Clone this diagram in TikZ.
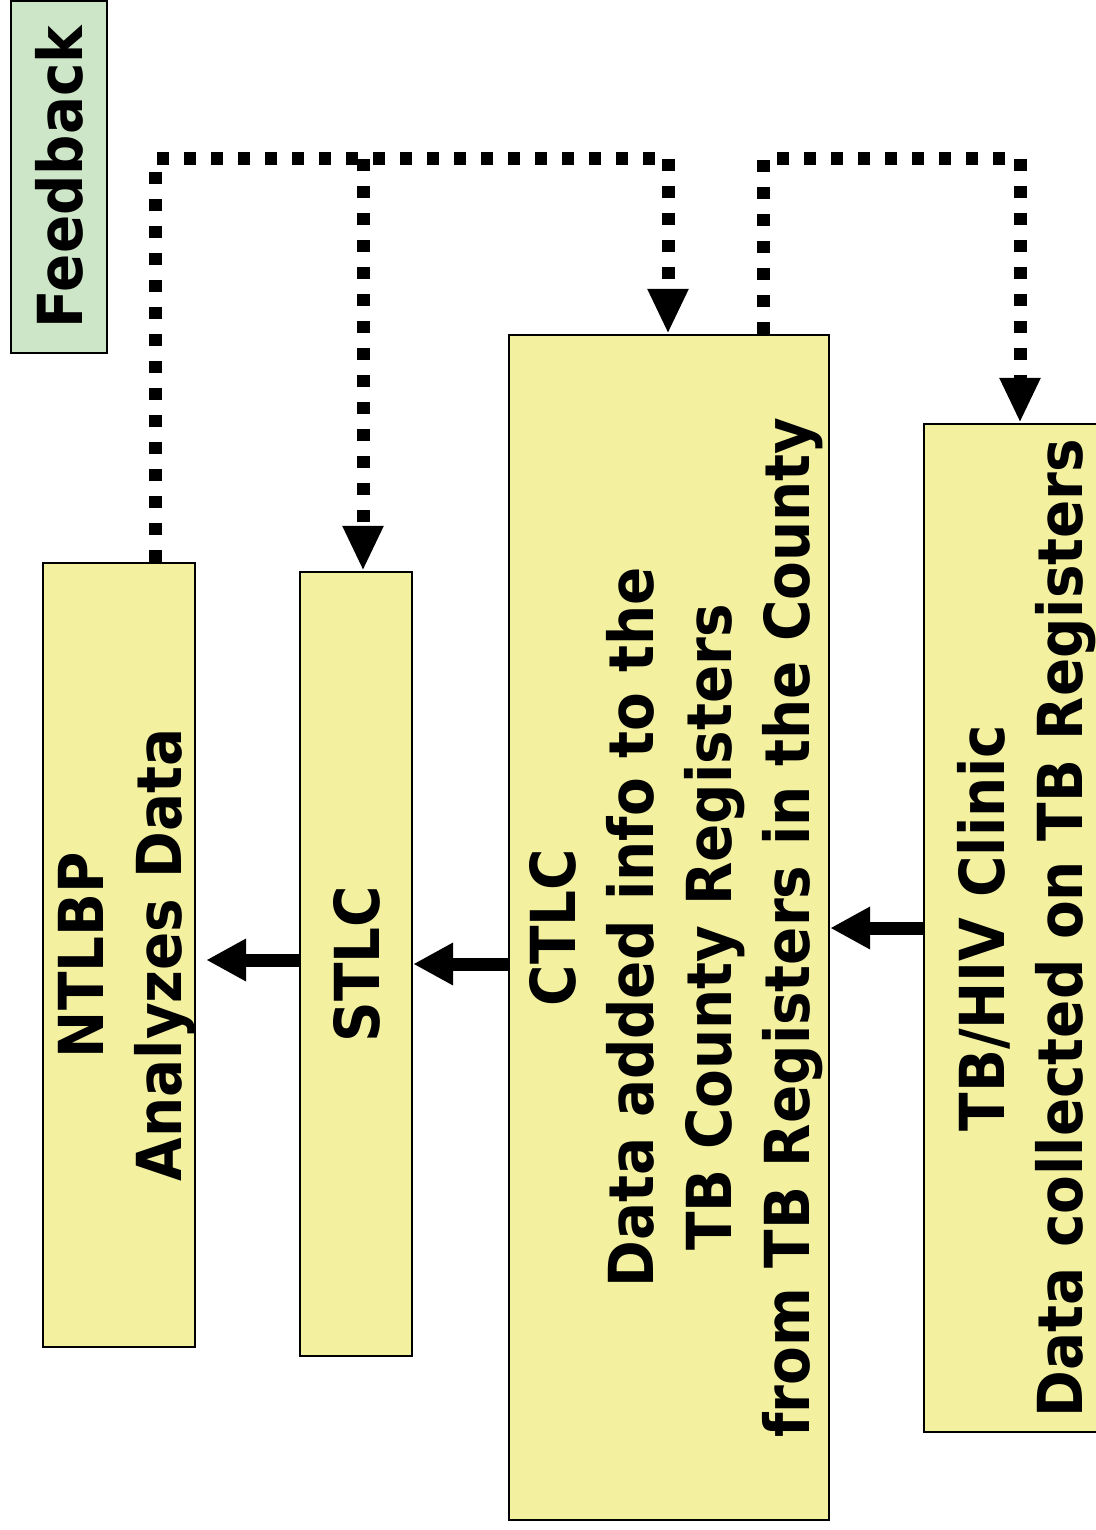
\documentclass[tikz,border=0pt]{standalone}
\usepackage{fontspec}
\usepackage{graphicx}
\usetikzlibrary{arrows.meta,positioning}
\newfontfamily\boxfont[FakeStretch=0.91]{DejaVu Sans}
\definecolor{boxyellow}{RGB}{243,241,160}
\definecolor{feedgreen}{RGB}{205,230,200}
\newcommand{\uptext}[1]{\rotatebox{90}{\raisebox{-4pt}[\height][\depth]{\begin{tabular}{@{}c@{}}#1\end{tabular}}}}

\begin{document}
\begin{tikzpicture}[x=0.5pt,y=-0.5pt,>={Triangle[length=20pt,width=20pt]}]
       \tikzstyle{box}=[draw,line width=1.2pt,fill=boxyellow,inner ysep=0pt,inner xsep=-2pt,
                        font=\boxfont\bfseries\fontsize{31}{39}\selectfont]
       \tikzstyle{flow}=[->,line width=6.5pt]
       \tikzstyle{feed}=[line width=6.5pt,dash pattern=on 6pt off 7.5pt,
                         >={Triangle[length=22.5pt,width=19pt]}]

       \useasboundingbox (0,0) rectangle (1096,1530);

       \node[box,fill=feedgreen,minimum width=48pt,minimum height=176pt]
             (feedback) at (59,177) {\uptext{Feedback}};
       \node[box,minimum width=76pt,minimum height=392pt]
             (ntlbp) at (119,955) {\uptext{NTLBP\\Analyzes Data}};
       \node[box,minimum width=56pt,minimum height=392pt]
             (stlc) at (356,964) {\uptext{STLC}};
       \node[box,minimum width=160pt,minimum height=592.5pt]
             (ctlc) at (669,927.5) {\uptext{CTLC\\Data added info to the\\TB County Registers\\from TB Registers in the County}};
       \node[box,minimum width=96pt,minimum height=504pt]
             (clinic) at (1020,928) {\uptext{TB/HIV Clinic\\Data collected on TB Registers}};

       \coordinate (fb_l) at (155,159);
       \coordinate (fb_s) at (363,159);
       \coordinate (fb_r) at (668,159);
       \coordinate (fb_c) at (763,159);
       \coordinate (fb_t) at (1020,159);

       \draw[flow] (clinic.west) -- (clinic.west -| ctlc.east);
       \draw[flow] (ctlc.west |- stlc.east) -- (stlc.east);
       \draw[flow,shorten >=5pt] ([yshift=2pt]stlc.west) -- ([yshift=2pt]stlc.west -| ntlbp.east);

       \draw[feed] (ntlbp.north -| fb_l) -- (fb_l) -- (fb_r);
       \draw[feed,->] (fb_r) -- (ctlc.north -| fb_r);
       \draw[feed,->] (fb_s) -- (stlc.north -| fb_s);
       \draw[feed,->] (ctlc.north -| fb_c) -- (fb_c) -- (fb_t) -- (clinic.north -| fb_t);
\end{tikzpicture}
\end{document}
